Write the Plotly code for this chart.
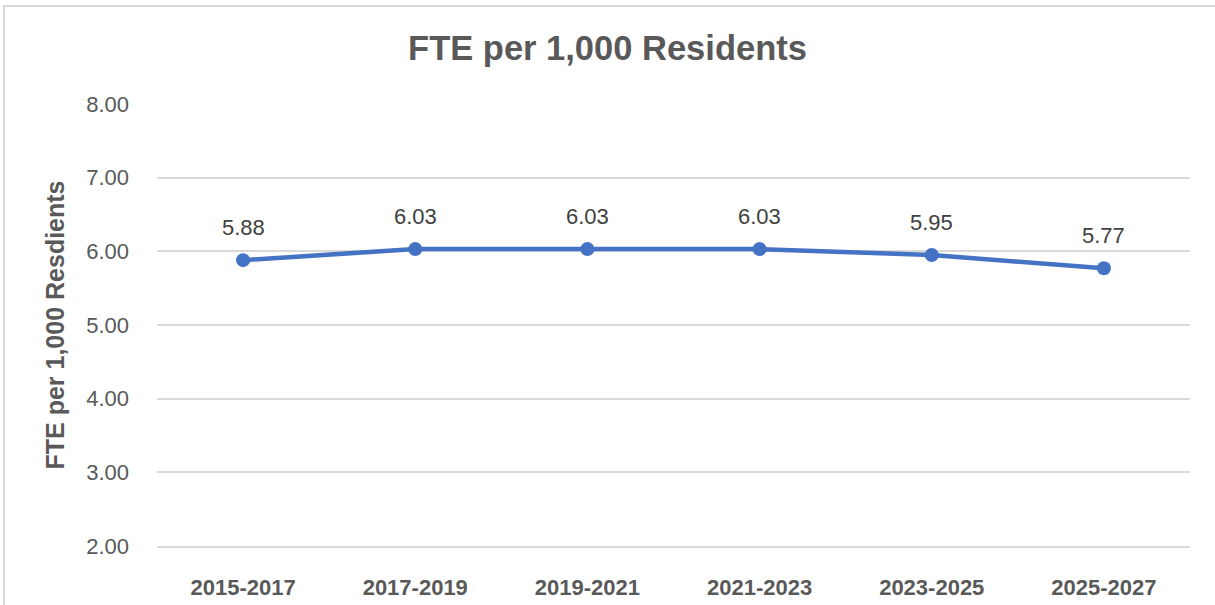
import plotly.graph_objects as go

# Biennium periods and FTE per 1,000 residents
periods = ["2015-2017", "2017-2019", "2019-2021", "2021-2023", "2023-2025", "2025-2027"]
fte_per_1000 = [5.88, 6.03, 6.03, 6.03, 5.95, 5.77]
y_ticks = [2, 3, 4, 5, 6, 7, 8]

LINE_BLUE = "#4472C4"
TEXT_GRAY = "#595959"
GRID_GRAY = "#d9d9d9"
FONT = "Liberation Sans, Arial, sans-serif"

W, H = 1215, 605
ML, MR, MT, MB = 157, 25, 104, 59

fig = go.Figure()
fig.add_trace(go.Scatter(
    x=periods,
    y=fte_per_1000,
    mode="lines+markers",
    line=dict(color=LINE_BLUE, width=4.5),
    marker=dict(color=LINE_BLUE, size=14),
    showlegend=False,
    hoverinfo="skip",
))

# Value labels above each point
for p, v in zip(periods, fte_per_1000):
    fig.add_annotation(
        x=p, y=v, text=f"{v:.2f}", showarrow=False,
        yshift=33, font=dict(family=FONT, size=22, color="#404040"),
    )

# Chart frame (left and top edges visible)
pw, ph = W - ML - MR, H - MT - MB
fig.add_shape(
    type="rect", xref="paper", yref="paper",
    x0=(4 - ML) / pw, x1=(W + 10 - ML) / pw,
    y0=-(H + 10 - MT - ph) / ph, y1=1 + (MT - 6) / ph,
    line=dict(color=GRID_GRAY, width=2), layer="below",
)

fig.update_layout(
    width=W, height=H,
    margin=dict(l=ML, r=MR, t=MT, b=MB),
    paper_bgcolor="white", plot_bgcolor="white",
    title=dict(
        text="<b>FTE per 1,000 Residents</b>",
        x=0.5, xanchor="center", xref="container",
        y=1 - 48 / H, yanchor="middle",
        font=dict(family=FONT, size=34.5, color=TEXT_GRAY),
    ),
    xaxis=dict(
        type="category",
        range=[-0.5, len(periods) - 0.5],
        showgrid=False, zeroline=False,
        showline=True, linecolor=GRID_GRAY, linewidth=1.5,
        tickfont=dict(family=FONT, size=22, color=TEXT_GRAY, weight="bold"),
        ticks="", ticklabelstandoff=21, automargin=False,
    ),
    yaxis=dict(
        range=[2, 8],
        tickvals=y_ticks,
        ticktext=[f"{t:.2f}" for t in y_ticks],
        showgrid=True, gridcolor=GRID_GRAY, gridwidth=1.5,
        zeroline=False, showline=False, ticks="",
        tickfont=dict(family=FONT, size=22, color=TEXT_GRAY),
        ticklabelstandoff=27, automargin=False,
        title=dict(
            text="<b>FTE per 1,000 Resdients</b>",
            font=dict(family=FONT, size=25, color=TEXT_GRAY),
            standoff=14,
        ),
    ),
)

fig.write_html("out.html")
